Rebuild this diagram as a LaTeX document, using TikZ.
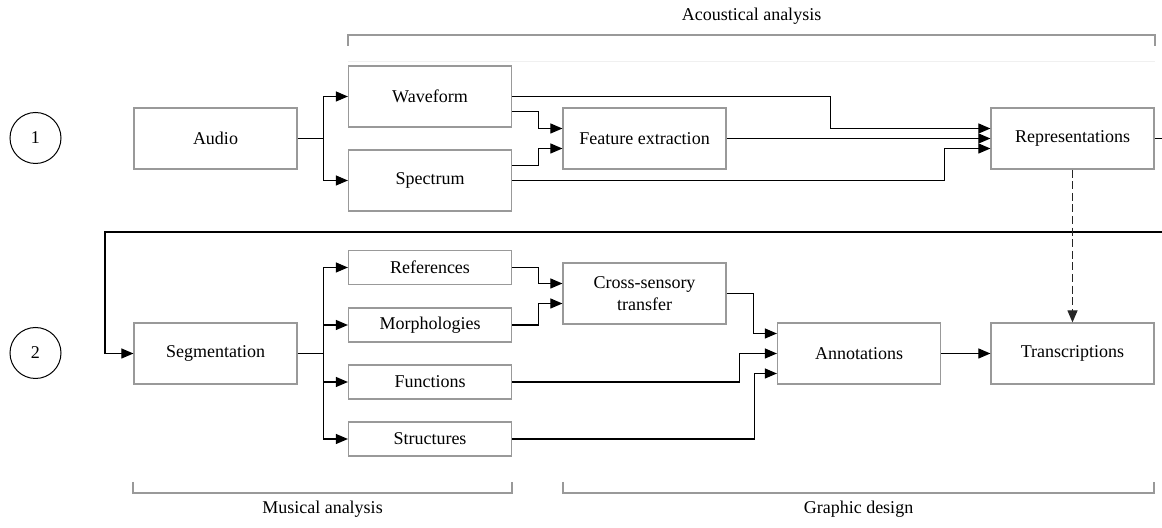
\documentclass[tikz,border=0pt]{standalone}
\usepackage{fontspec}
\setmainfont{Liberation Serif}
\usetikzlibrary{arrows.meta}
\tikzset{
  every node/.style={font=\fontsize{9}{11}\selectfont},
  bigbox/.style={draw=black!40, line width=0.6pt, minimum width=81.5pt, minimum height=30.5pt, inner sep=0pt},
  smallbox/.style={bigbox, minimum height=17pt},
  circ/.style={draw, circle, line width=0.5pt, minimum size=25.5pt, inner sep=0pt},
  arr/.style={line width=0.55pt, -{Triangle[length=6pt,width=5pt]}},
  brk/.style={draw=black!40, line width=0.6pt},
}
\begin{document}
\begin{tikzpicture}[x=0.5pt,y=-0.5pt]
\useasboundingbox (0,0) rectangle (1162,528);
% stages
\node[circ] (one) at (35.5,138) {1};
\node[circ] (two) at (35.5,353) {2};
% acoustical part
\node[bigbox] (audio) at (215.5,138.5) {Audio};
\node[bigbox] (wave) at (430,96.5) {Waveform};
\node[bigbox] (spec) at (430,180.5) {Spectrum};
\node[bigbox] (feat) at (644.5,138.5) {Feature extraction};
\node[bigbox] (repr) at (1072.5,138.5) {Representations};
% musical part
\node[bigbox] (segm) at (215.5,353.5) {Segmentation};
\node[smallbox] (refs) at (430,267.5) {References};
\node[smallbox] (morph) at (430,325) {Morphologies};
\node[smallbox] (func) at (430,382) {Functions};
\node[smallbox] (struc) at (430,439) {Structures};
\node[bigbox, align=center] (cross) at (644.5,293.5) {Cross-sensory\\transfer};
\node[bigbox] (annot) at (859,353.5) {Annotations};
\node[bigbox] (trans) at (1072.5,353.5) {Transcriptions};
% first row
\coordinate (asplit) at ([xshift=13pt]audio.east);
\draw (audio.east) -- (asplit);
\draw[arr] (asplit) |- (wave.west);
\draw[arr] (asplit) |- (spec.west);
\draw[arr] ([yshift=-7.5pt]wave.east) -- ++(13pt,0) |- ([yshift=5pt]feat.west);
\draw[arr] ([yshift=7.5pt]spec.east) -- ++(13pt,0) |- ([yshift=-5pt]feat.west);
\draw[arr] (wave.east) -- ++(159pt,0) |- ([yshift=5pt]repr.west);
\draw[arr] (feat.east) -- (repr.west);
\draw[arr] (spec.east) -- ++(216pt,0) |- ([yshift=-5pt]repr.west);
% back to the second row
\draw[arr] (repr.east) -- ++(10pt,0) |- (105,232) |- (segm.west);
\draw[arr, black!85, dash pattern=on 4pt off 1.8pt] (repr.south) -- (trans.north);
% second row
\coordinate (ssplit) at ([xshift=13pt]segm.east);
\draw (segm.east) -- (ssplit);
\foreach \n in {refs,morph,func,struc}
  \draw[arr] (ssplit) |- (\n.west);
\draw[arr] (refs.east) -- ++(13pt,0) |- ([yshift=5pt]cross.west);
\draw[arr] (morph.east) -- ++(13pt,0) |- ([yshift=-5pt]cross.west);
\draw[arr] (cross.east) -- ++(13.5pt,0) |- ([yshift=10pt]annot.west);
\draw[arr] (func.east) -- ++(113.5pt,0) |- (annot.west);
\draw[arr] (struc.east) -- ++(121pt,0) |- ([yshift=-10pt]annot.west);
\draw[arr] (annot.east) -- (trans.west);
% brackets
\draw[black!6, line width=0.5pt] (348,62) -- (1155,62);
\draw[brk] (348,46) -- (348,35) -- (1155,35) -- (1155,46);
\node (acou) at (751.5,16) {Acoustical analysis};
\draw[brk] (133,482) -- (133,493) -- (512,493) -- (512,482);
\node (musi) at (322.5,509) {Musical analysis};
\draw[brk] (563,482) -- (563,493) -- (1154,493) -- (1154,482);
\node (grap) at (858.5,509) {Graphic design};
\end{tikzpicture}
\end{document}
